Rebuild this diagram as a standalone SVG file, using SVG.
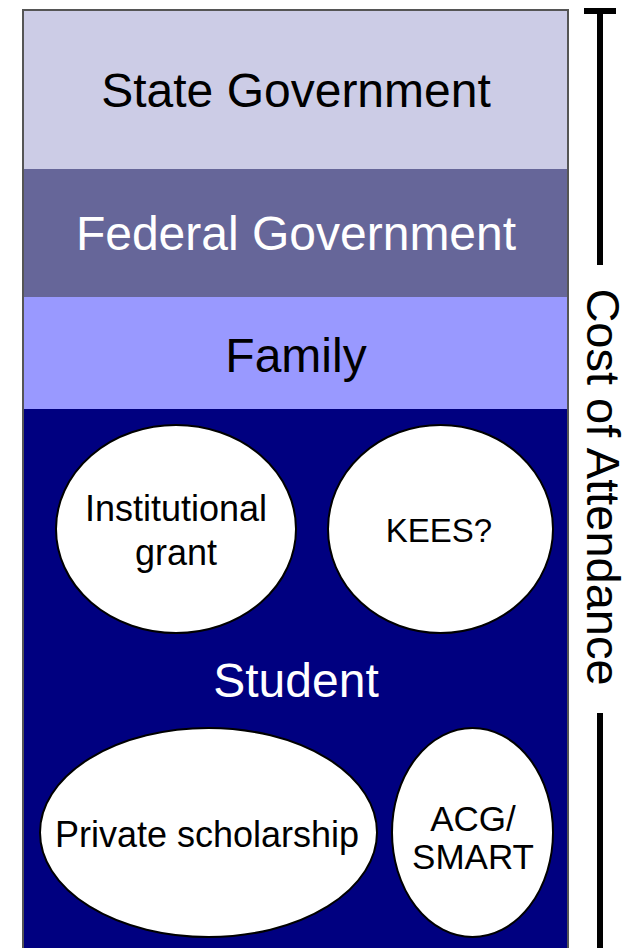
<svg xmlns="http://www.w3.org/2000/svg" width="629" height="948" viewBox="0 0 629 948">
<style>
text{font-family:"Liberation Sans",Arial,sans-serif;text-anchor:middle}
.band{font-size:48px}
.bub{font-size:36px;fill:#000}
.ell{fill:#fff;stroke:#000;stroke-width:2}
.bar{stroke:#000;stroke-width:6;fill:none}
</style>
<rect x="0" y="0" width="629" height="948" fill="#fff"/>
<g id="state">
<rect x="23" y="10" width="545" height="159" fill="#CCCCE6"/>
<text class="band" x="296" y="107" fill="#000">State Government</text>
</g>
<g id="federal">
<rect x="23" y="169" width="545" height="128" fill="#666699"/>
<text class="band" x="296" y="250" fill="#fff">Federal Government</text>
</g>
<g id="family">
<rect x="23" y="297" width="545" height="112" fill="#9999FF"/>
<text class="band" x="296" y="372" fill="#000">Family</text>
</g>
<g id="student">
<rect x="23" y="409" width="545" height="545" fill="#000080"/>
<text class="band" x="296" y="697" fill="#fff">Student</text>
</g>
<rect x="23" y="10" width="545" height="945" fill="none" stroke="#555" stroke-width="2"/>
<g id="institutional">
<ellipse class="ell" cx="176" cy="529" rx="120" ry="104"/>
<text class="bub" x="176" y="521">Institutional</text>
<text class="bub" x="176" y="565">grant</text>
</g>
<g id="kees">
<ellipse class="ell" cx="440.5" cy="529" rx="112.5" ry="104"/>
<text class="bub" x="439" y="542" style="font-size:33px">KEES?</text>
</g>
<g id="private">
<ellipse class="ell" cx="208.5" cy="832.5" rx="168.5" ry="104.5"/>
<text class="bub" x="207" y="847">Private scholarship</text>
</g>
<g id="acg">
<ellipse class="ell" cx="472.5" cy="832.5" rx="80.5" ry="104.5"/>
<text class="bub" x="473" y="831" style="font-size:35px">ACG/</text>
<text class="bub" x="473" y="869" style="font-size:35px">SMART</text>
</g>
<g id="connectors">
<line class="bar" x1="584" y1="11" x2="616" y2="11"/>
<line class="bar" x1="600" y1="11" x2="600" y2="265"/>
<line class="bar" x1="600" y1="713" x2="600" y2="948"/>
</g>
<g id="cost">
<text transform="translate(587,487) rotate(90)" x="0" y="0" style="font-size:47px" fill="#000">Cost of Attendance</text>
</g>
</svg>
